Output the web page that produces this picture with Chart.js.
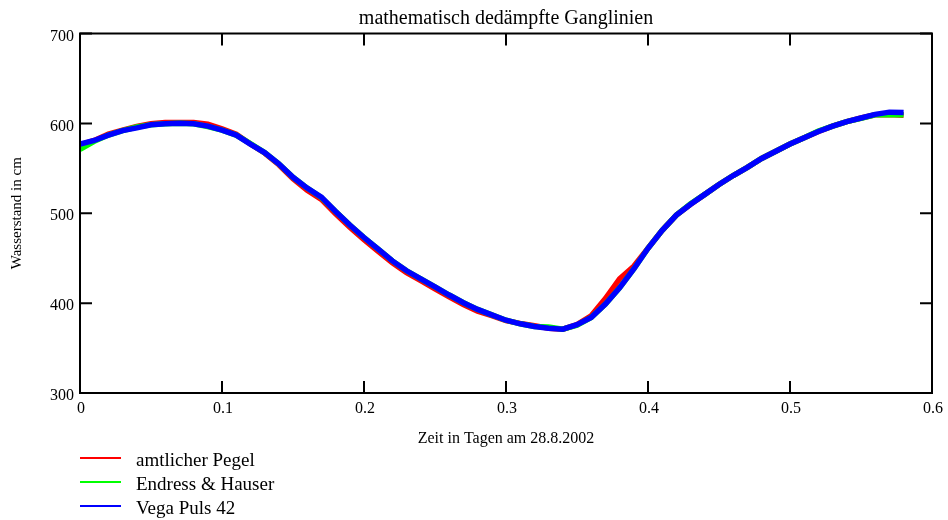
<!DOCTYPE html>
<html lang="de">
<head>
<meta charset="utf-8">
<title>Ganglinien</title>
<script src="https://cdn.jsdelivr.net/npm/chart.js@4/dist/chart.umd.min.js"></script>
<style>
  html, body { margin: 0; padding: 0; background: #fff; }
  #wrap { position: relative; width: 948px; height: 520px; }
  #ganglinien { display: block; }
  .eintrag {
    position: absolute; left: 80px; height: 24px;
    display: flex; align-items: center;
    font: 19px "Liberation Serif", "Times New Roman", serif; color: #000;
    line-height: 24px;
  }
  .eintrag span.strich {
    display: inline-block; width: 41px; height: 2px; margin-right: 15px;
    position: relative; top: -2px;
  }
</style>
</head>
<body>
<div id="wrap">
  <canvas id="ganglinien" width="948" height="520"></canvas>
  <div id="legende"></div>
</div>
<script>
// Zeit in Tagen (x-Werte)
const tage = [
  0.00, 0.01, 0.02, 0.03, 0.04, 0.05, 0.06, 0.07, 0.08, 0.09,
  0.10, 0.11, 0.12, 0.13, 0.14, 0.15, 0.16, 0.17, 0.18, 0.19,
  0.20, 0.21, 0.22, 0.23, 0.24, 0.25, 0.26, 0.27, 0.28, 0.29,
  0.30, 0.31, 0.32, 0.33, 0.34, 0.35, 0.36, 0.37, 0.38, 0.39,
  0.40, 0.41, 0.42, 0.43, 0.44, 0.45, 0.46, 0.47, 0.48, 0.49,
  0.50, 0.51, 0.52, 0.53, 0.54, 0.55, 0.56, 0.57, 0.58
];

// Wasserstand in cm, gedämpft
const amtlicherPegel = [
  576, 581, 588, 592.5, 596.5, 599.5, 601, 601, 601, 599,
  594, 588, 577, 567, 554, 538.5, 525.5, 515.5, 499.5, 484.5,
  470.5, 457.5, 445, 434, 425, 416, 407, 398.5, 391, 386,
  380.5, 377.5, 375, 372, 371, 376, 386, 405, 427, 441,
  461, 481, 498, 510, 521, 532, 542, 551, 561, 569,
  577, 584, 591, 597, 602, 606, 609.5, 610, 609
];

const endressHauser = [
  571, 580, 587, 592, 596, 598.5, 599.5, 600, 599.5, 596.5,
  592.5, 587, 577.5, 567.5, 555, 540, 528, 517.5, 502, 487,
  473, 460, 447, 436, 427, 418, 409, 400.5, 393, 387,
  381, 377, 374, 373.5, 371, 375.5, 384, 399, 417, 438,
  461, 481, 498, 510.5, 521, 532, 542, 551, 561, 569,
  577, 584, 591.5, 597, 602, 605.5, 609.5, 610, 609.5
];

const vegaPuls = [
  577, 581, 587, 592, 595, 598.5, 599.5, 600, 599.5, 597,
  592.5, 587, 577, 567.5, 555, 540, 528, 518, 502, 487,
  473, 460, 447, 436, 427, 418, 409, 400.5, 393, 387,
  381, 377, 374, 372, 371, 376, 384, 399, 417, 438,
  461, 481, 498, 510, 521, 532, 542, 551, 561, 569,
  577, 584, 591, 597, 602, 606, 610, 612.5, 612
];

const reihenNamen = ['amtlicher Pegel', 'Endress & Hauser', 'Vega Puls 42'];
const reihenFarben = ['#ff0000', '#00ff00', '#0000ff'];
const xTicks = [0, 0.1, 0.2, 0.3, 0.4, 0.5, 0.6];
const yTicks = [300, 400, 500, 600, 700];

const schrift = '"Liberation Serif", "Times New Roman", serif';

function punkte(werte) {
  return werte.map((w, i) => ({ x: tage[i], y: w }));
}

// Rahmen rundherum mit nach innen zeigenden Teilstrichen
const rahmen = {
  id: 'rahmen',
  afterDatasetsDraw(chart) {
    const { ctx, chartArea: a, scales: { x, y } } = chart;
    ctx.save();
    ctx.strokeStyle = '#000';
    ctx.lineWidth = 2;
    ctx.strokeRect(a.left, a.top, a.right - a.left, a.bottom - a.top);
    ctx.beginPath();
    x.ticks.forEach(t => {
      const px = x.getPixelForValue(t.value);
      ctx.moveTo(px, a.bottom); ctx.lineTo(px, a.bottom - 12);
      ctx.moveTo(px, a.top); ctx.lineTo(px, a.top + 12);
    });
    y.ticks.forEach(t => {
      const py = y.getPixelForValue(t.value);
      ctx.moveTo(a.left, py); ctx.lineTo(a.left + 12, py);
      ctx.moveTo(a.right, py); ctx.lineTo(a.right - 12, py);
    });
    ctx.stroke();
    ctx.restore();
  }
};

const reihen = [amtlicherPegel, endressHauser, vegaPuls];

new Chart(document.getElementById('ganglinien'), {
  type: 'line',
  data: {
    datasets: reihen.map((werte, i) => ({
      label: reihenNamen[i],
      data: punkte(werte),
      borderColor: reihenFarben[i],
      backgroundColor: reihenFarben[i],
      borderWidth: 5.5,
      pointRadius: 0,
      tension: 0,
      fill: false,
      order: 3 - i   // Vega oben, amtlicher Pegel unten
    }))
  },
  options: {
    responsive: false,
    animation: false,
    devicePixelRatio: 1,
    layout: { padding: { left: 0, right: 13, top: 0, bottom: 0 } },
    plugins: {
      legend: { display: false },
      tooltip: { enabled: false },
      title: {
        display: true,
        text: 'mathematisch dedämpfte Ganglinien',
        fullSize: false,
        color: '#000',
        font: { family: schrift, size: 20, weight: 'normal' },
        padding: { top: 7, bottom: 2.5 }
      }
    },
    scales: {
      x: {
        type: 'linear',
        min: 0,
        max: 0.6,
        afterBuildTicks(s) { s.ticks = xTicks.map(v => ({ value: v })); },
        ticks: {
          color: '#000',
          padding: 6,
          labelOffset: 1,
          maxRotation: 0,
          font: { family: schrift, size: 16 },
          callback: v => String(v)
        },
        grid: { display: false, drawTicks: false },
        border: { display: false },
        title: {
          display: true,
          text: 'Zeit in Tagen am 28.8.2002',
          color: '#000',
          font: { family: schrift, size: 16 },
          padding: { top: 0, bottom: 72 }
        },
        afterFit(s) { s.height = 127; }
      },
      y: {
        type: 'linear',
        min: 300,
        max: 700,
        afterBuildTicks(s) { s.ticks = yTicks.map(v => ({ value: v })); },
        ticks: {
          color: '#000',
          padding: 6,
          labelOffset: 3,
          font: { family: schrift, size: 16 }
        },
        grid: { display: false, drawTicks: false },
        border: { display: false },
        title: {
          display: true,
          text: 'Wasserstand in cm',
          color: '#000',
          font: { family: schrift, size: 15 },
          padding: { top: 8, bottom: 0 }
        },
        afterFit(s) { s.width = 80; }
      }
    }
  },
  plugins: [rahmen]
});

// Legende unter dem Diagramm
const legende = document.getElementById('legende');
reihenNamen.forEach((name, i) => {
  const zeile = document.createElement('div');
  zeile.className = 'eintrag';
  zeile.style.top = (448 + i * 24) + 'px';
  const strich = document.createElement('span');
  strich.className = 'strich';
  strich.style.background = reihenFarben[i];
  zeile.appendChild(strich);
  zeile.appendChild(document.createTextNode(name));
  legende.appendChild(zeile);
});
</script>
</body>
</html>
